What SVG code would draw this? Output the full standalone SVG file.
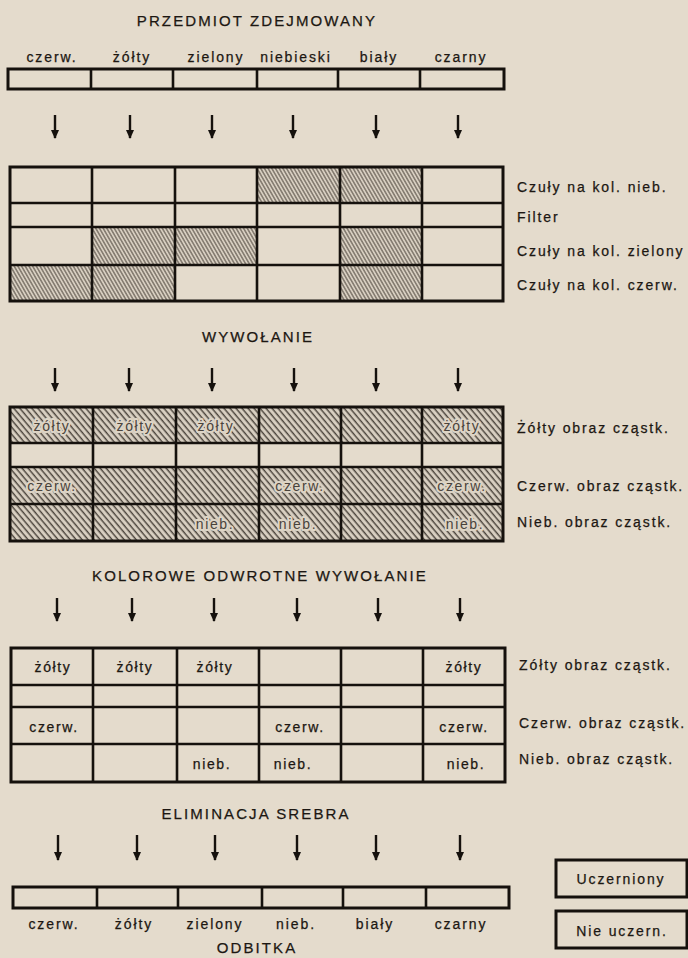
<svg xmlns="http://www.w3.org/2000/svg" width="688" height="958" viewBox="0 0 688 958">
<style>
text{font-family:"Liberation Sans",Arial,sans-serif;fill:#1c1712;stroke:#1c1712;stroke-width:0.25}
.t{font-size:15px;letter-spacing:2.1px;text-anchor:middle}
.l{font-size:14px;letter-spacing:1.9px;text-anchor:middle}
.r{font-size:14px;letter-spacing:1.9px}
.c{font-size:14px;letter-spacing:1.6px;text-anchor:middle}
.h{font-size:14px;letter-spacing:1.6px;text-anchor:middle;fill:#4a433c;stroke:#ddd4c5;stroke-width:4;paint-order:stroke;stroke-linejoin:round}
.box{fill:none;stroke:#15110d;stroke-width:3}
.ln{stroke:#15110d;stroke-width:2.6;fill:none}
.arr{stroke:#15110d;stroke-width:2.4;marker-end:url(#ah)}
.h1{fill:url(#hatch1)}
.h2{fill:url(#hatch2)}
</style>
<defs>
<pattern id="hatch1" width="3.2" height="10" patternUnits="userSpaceOnUse" patternTransform="rotate(-30)">
<rect width="3.2" height="10" fill="#d8cfc1"/>
<line x1="0.8" y1="0" x2="0.8" y2="10" stroke="#6a6258" stroke-width="1.2"/>
</pattern>
<pattern id="hatch2" width="4.6" height="10" patternUnits="userSpaceOnUse" patternTransform="rotate(-40)">
<rect width="4.6" height="10" fill="#d9d0c2"/>
<line x1="1.2" y1="0" x2="1.2" y2="10" stroke="#4a433b" stroke-width="1.45"/>
</pattern>
<marker id="ah" markerWidth="9" markerHeight="9" refX="8" refY="4.5" orient="auto" markerUnits="userSpaceOnUse">
<path d="M0,0.5 L9,4.5 L0,8.5 z" fill="#15110d"/>
</marker>
</defs>
<rect width="688" height="958" fill="#e4dbcc"/>

<g id="title-top"><text class="t" x="257" y="26">PRZEDMIOT ZDEJMOWANY</text></g>

<g id="strip-top">
<text class="l" x="52" y="62">czerw.</text>
<text class="l" x="132" y="62">żółty</text>
<text class="l" x="216" y="62">zielony</text>
<text class="l" x="296" y="62">niebieski</text>
<text class="l" x="379" y="62">biały</text>
<text class="l" x="461" y="62">czarny</text>
<rect class="box" x="8" y="69" width="496" height="20"/>
<path class="ln" d="M91,69V89M173,69V89M257,69V89M338,69V89M420,69V89"/>
</g>

<g id="grid-1">
<rect class="h1" x="257" y="167" width="165" height="36"/>
<rect class="h1" x="92" y="227" width="165" height="38"/>
<rect class="h1" x="340" y="227" width="82" height="74"/>
<rect class="h1" x="10" y="265" width="165" height="36"/>
<rect class="box" x="10" y="167" width="493" height="134"/>
<path class="ln" d="M10,203H503M10,227H503M10,265H503M92,167V301M175,167V301M257,167V301M340,167V301M422,167V301"/>
<text class="r" x="517" y="192">Czuły na kol. nieb.</text>
<text class="r" x="517" y="222">Filter</text>
<text class="r" x="517" y="256">Czuły na kol. zielony</text>
<text class="r" x="517" y="290">Czuły na kol. czerw.</text>
</g>

<g id="title-wywolanie"><text class="t" x="258" y="342">WYWOŁANIE</text></g>

<g id="grid-2">
<rect class="h2" x="10" y="407" width="493" height="36"/>
<rect class="h2" x="10" y="467" width="493" height="74"/>
<text class="h" x="52" y="431">żółty</text>
<text class="h" x="135" y="431">żółty</text>
<text class="h" x="216" y="431">żółty</text>
<text class="h" x="462" y="431">żółty</text>
<text class="h" x="52" y="491">czerw.</text>
<text class="h" x="300" y="491">czerw.</text>
<text class="h" x="462" y="491">czerw.</text>
<text class="h" x="215" y="529">nieb.</text>
<text class="h" x="298" y="529">nieb.</text>
<text class="h" x="465" y="529">nieb.</text>
<rect class="box" x="10" y="407" width="493" height="134"/>
<path class="ln" d="M10,443H503M10,467H503M10,504H503M93,407V541M176,407V541M259,407V541M341,407V541M422,407V541"/>
<text class="r" x="517" y="433">Żółty obraz cząstk.</text>
<text class="r" x="517" y="491">Czerw. obraz cząstk.</text>
<text class="r" x="517" y="527">Nieb. obraz cząstk.</text>
</g>

<g id="title-kolorowe"><text class="t" x="260" y="581">KOLOROWE ODWROTNE WYWOŁANIE</text></g>

<g id="grid-3">
<rect class="box" x="11" y="648" width="494" height="134"/>
<path class="ln" d="M11,685H505M11,707H505M11,744H505M93,648V782M177,648V782M259,648V782M341,648V782M423,648V782"/>
<text class="c" x="53" y="672">żółty</text>
<text class="c" x="135" y="672">żółty</text>
<text class="c" x="215" y="672">żółty</text>
<text class="c" x="464" y="672">żółty</text>
<text class="c" x="54" y="732">czerw.</text>
<text class="c" x="300" y="732">czerw.</text>
<text class="c" x="464" y="732">czerw.</text>
<text class="c" x="212" y="769">nieb.</text>
<text class="c" x="293" y="769">nieb.</text>
<text class="c" x="466" y="769">nieb.</text>
<text class="r" x="519" y="670">Zółty obraz cząstk.</text>
<text class="r" x="519" y="728">Czerw. obraz cząstk.</text>
<text class="r" x="519" y="764">Nieb. obraz cząstk.</text>
</g>

<g id="title-eliminacja"><text class="t" x="256" y="819">ELIMINACJA SREBRA</text></g>

<g id="strip-bottom">
<rect class="box" x="13" y="887" width="496" height="21"/>
<path class="ln" d="M97,887V908M178,887V908M262,887V908M343,887V908M426,887V908"/>
<text class="l" x="54" y="929">czerw.</text>
<text class="l" x="134" y="929">żółty</text>
<text class="l" x="215" y="929">zielony</text>
<text class="l" x="296" y="929">nieb.</text>
<text class="l" x="375" y="929">biały</text>
<text class="l" x="461" y="929">czarny</text>
</g>

<g id="title-odbitka"><text class="t" x="257" y="953">ODBITKA</text></g>

<g id="legend-uczerniony">
<rect class="box" x="556" y="860" width="131" height="37"/>
<text class="l" x="621" y="884">Uczerniony</text>
</g>
<g id="legend-nie-uczern">
<rect class="box" x="556" y="911" width="131" height="37"/>
<text class="l" x="622" y="936">Nie uczern.</text>
</g>

<g id="connectors">
<line class="arr" x1="55" y1="115" x2="55" y2="138"/>
<line class="arr" x1="130" y1="115" x2="130" y2="138"/>
<line class="arr" x1="212" y1="115" x2="212" y2="138"/>
<line class="arr" x1="293" y1="115" x2="293" y2="138"/>
<line class="arr" x1="376" y1="115" x2="376" y2="138"/>
<line class="arr" x1="458" y1="115" x2="458" y2="138"/>
<line class="arr" x1="55" y1="368" x2="55" y2="391"/>
<line class="arr" x1="129" y1="368" x2="129" y2="391"/>
<line class="arr" x1="212" y1="368" x2="212" y2="391"/>
<line class="arr" x1="294" y1="368" x2="294" y2="391"/>
<line class="arr" x1="376" y1="368" x2="376" y2="391"/>
<line class="arr" x1="458" y1="368" x2="458" y2="391"/>
<line class="arr" x1="57" y1="598" x2="57" y2="621"/>
<line class="arr" x1="132" y1="598" x2="132" y2="621"/>
<line class="arr" x1="214" y1="598" x2="214" y2="621"/>
<line class="arr" x1="297" y1="598" x2="297" y2="621"/>
<line class="arr" x1="378" y1="598" x2="378" y2="621"/>
<line class="arr" x1="460" y1="598" x2="460" y2="621"/>
<line class="arr" x1="58" y1="835" x2="58" y2="860"/>
<line class="arr" x1="137" y1="835" x2="137" y2="860"/>
<line class="arr" x1="215" y1="835" x2="215" y2="860"/>
<line class="arr" x1="297" y1="835" x2="297" y2="860"/>
<line class="arr" x1="376" y1="835" x2="376" y2="860"/>
<line class="arr" x1="460" y1="835" x2="460" y2="860"/>
</g>
</svg>
